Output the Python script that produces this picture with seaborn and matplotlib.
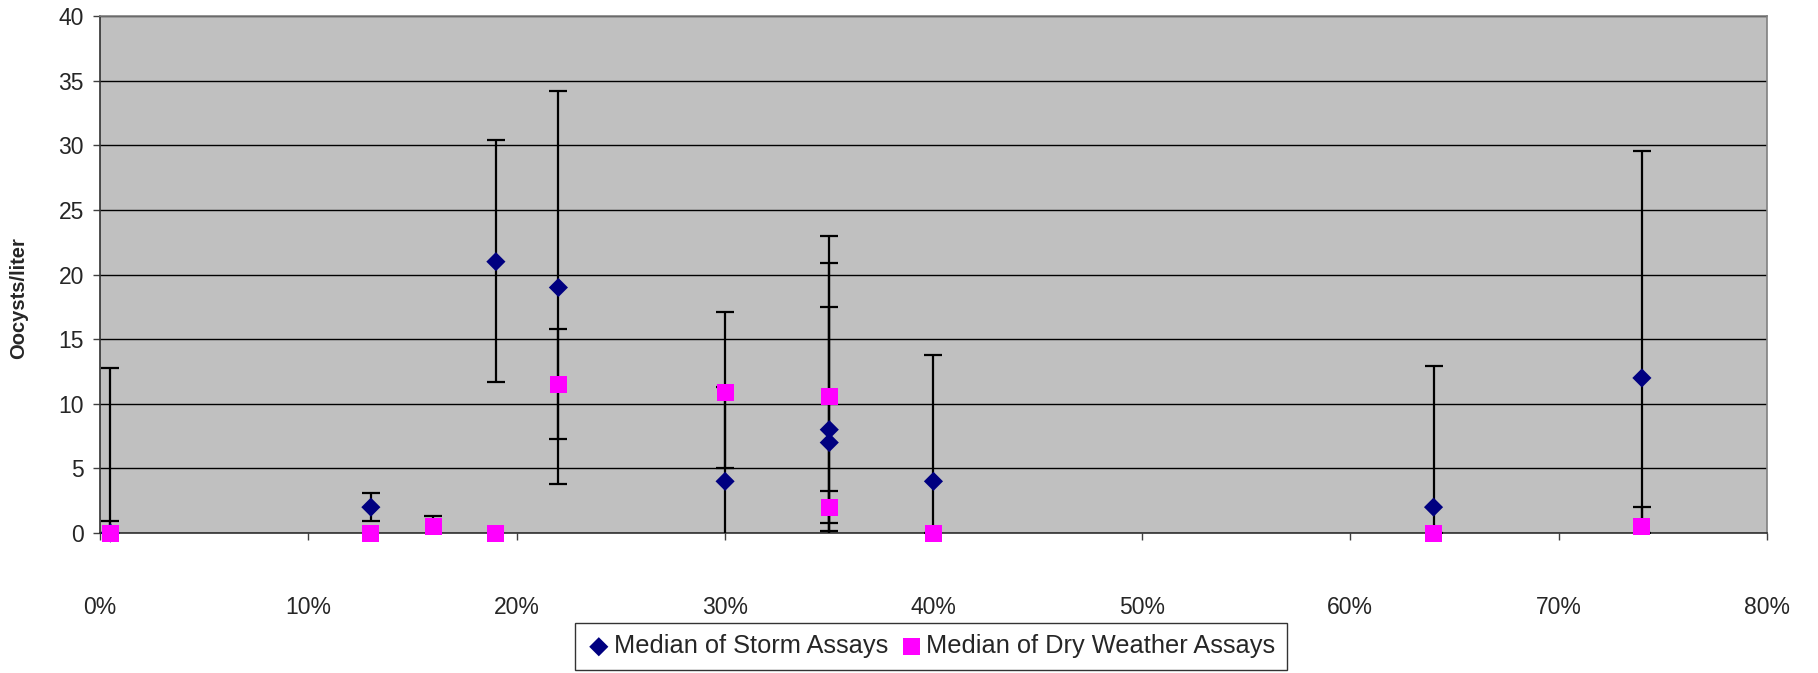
import numpy as np
import pandas as pd
import seaborn as sns
import matplotlib
matplotlib.use("Agg")
from matplotlib import pyplot as plt
from matplotlib.ticker import PercentFormatter

# Storm assays (median + range drawn as error bar), x in percent
storm_x = [0.5, 13, 19, 22, 30, 35, 35, 40, 64, 74]
storm_y = [0, 2, 21, 19, 4, 8, 7, 4, 2, 12]
storm_lo = [0, 0.9, 11.7, 3.8, -1, -1, 0.75, 0, 0, -1]
storm_hi = [12.8, 3.1, 30.4, 34.2, 17.1, 23.0, 20.9, 13.8, 12.9, 29.6]

# Dry weather assays
dry_x = [0.5, 13, 16, 19, 22, 30, 35, 35, 40, 64, 74]
dry_y = [0, 0, 0.5, 0, 11.5, 10.9, 10.6, 2.0, 0, 0, 0.5]
dry_lo = [0, np.nan, -0.2, np.nan, 7.3, 5.0, -1, 0.17, np.nan, np.nan, 0]
dry_hi = [0.9, np.nan, 1.3, np.nan, 15.8, 11.3, 17.5, 3.26, np.nan, np.nan, 2.0]

x_ticks = [0, 10, 20, 30, 40, 50, 60, 70, 80]
y_ticks = [0, 5, 10, 15, 20, 25, 30, 35, 40]

df_storm = pd.DataFrame({"x": storm_x, "y": storm_y, "lo": storm_lo, "hi": storm_hi})
df_dry = pd.DataFrame({"x": dry_x, "y": dry_y, "lo": dry_lo, "hi": dry_hi})

sns.set_style("white")
plt.rcParams['font.family'] = ['Liberation Sans', 'DejaVu Sans']

fig = plt.figure(figsize=(18.18, 6.73), dpi=100)
ax = fig.add_axes([0.055, 0.208, 0.9169, 0.768])
ax.set_facecolor("#C0C0C0")

# error bars (under the markers)
for d in [df_storm, df_dry]:
    e = d.dropna()
    ax.errorbar(e["x"], e["y"], yerr=[e["y"] - e["lo"], e["hi"] - e["y"]],
                fmt="none", ecolor="black", elinewidth=1.6, capsize=6.5,
                capthick=1.6, zorder=3)

sns.scatterplot(data=df_storm, x="x", y="y", marker="D", color="#000080",
                s=95, edgecolor="none", zorder=4, clip_on=False,
                label="Median of Storm Assays", ax=ax)
sns.scatterplot(data=df_dry, x="x", y="y", marker="s", color="#FF00FF",
                s=150, edgecolor="none", zorder=5, clip_on=False,
                label="Median of Dry Weather Assays", ax=ax)

ax.set_xlim(0, 80)
ax.set_ylim(0, 40)
ax.set_xticks(x_ticks)
ax.set_yticks(y_ticks)
ax.xaxis.set_major_formatter(PercentFormatter(xmax=100, decimals=0))
ax.grid(axis="y", color="black", linewidth=1.0)
ax.set_axisbelow(True)

ax.tick_params(axis="x", direction="out", length=5, width=1, pad=40,
               labelsize=16.5, color="#404040", bottom=True)
ax.tick_params(axis="y", direction="out", length=5, width=1, pad=6.5,
               labelsize=16.5, color="#404040", left=True)

for side in ["left", "bottom"]:
    ax.spines[side].set_color("#303030")
    ax.spines[side].set_linewidth(1.2)
for side in ["top", "right"]:
    ax.spines[side].set_color("#808080")
    ax.spines[side].set_linewidth(1.2)

ax.set_xlabel("")
ax.set_ylabel("Oocysts/liter", fontsize=14.5, fontweight="bold")
ax.yaxis.set_label_coords(-0.0433, 0.455)

handles, labels = ax.get_legend_handles_labels()
ax.get_legend().remove()
leg = fig.legend(handles, labels, loc="center", bbox_to_anchor=(0.512, 0.0395),
                 ncol=2, frameon=True, fancybox=False, edgecolor="black",
                 fontsize=18.3, handletextpad=0.1, columnspacing=0.4,
                 borderpad=0.45, handlelength=1.0, borderaxespad=0)
leg.get_frame().set_linewidth(1.0)

plt.savefig("out.png", dpi=100)
